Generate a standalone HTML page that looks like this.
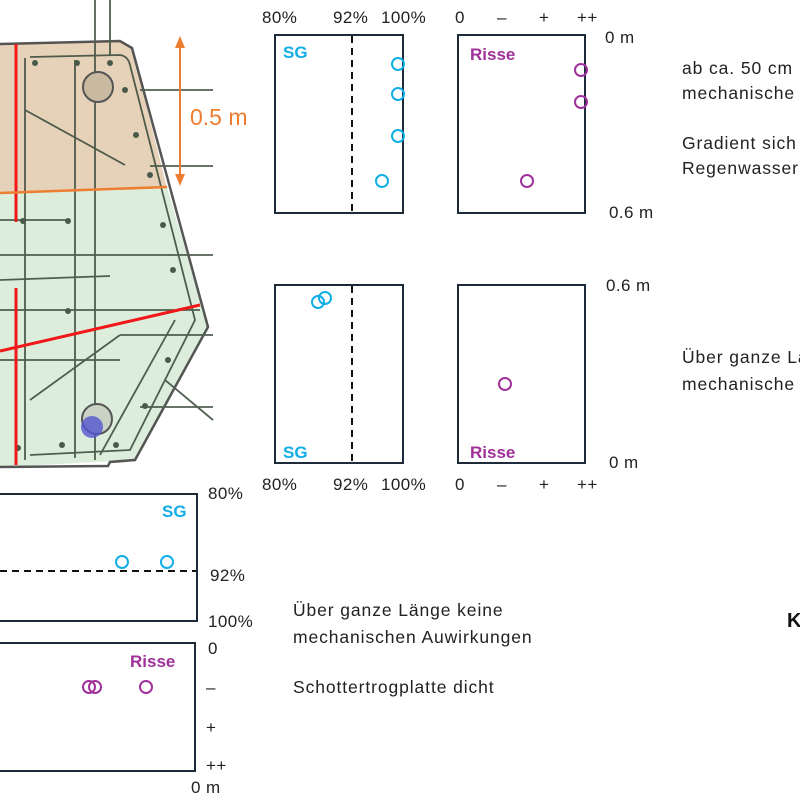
<!DOCTYPE html>
<html><head><meta charset="utf-8"><style>
html,body{margin:0;padding:0;background:#fff;width:800px;height:800px;overflow:hidden}
svg text{font-family:"Liberation Sans",sans-serif}
</style></head><body>
<svg width="800" height="800" viewBox="0 0 800 800" xmlns="http://www.w3.org/2000/svg">
<polygon points="0,44 120,41 132,48 167,188 0,193" fill="#e6d2b8"/>
<polygon points="0,193 167,187 208,327 135,460 0,467" fill="#dceedb"/>
<g stroke="#3f4f3f" stroke-width="1.8" fill="none" opacity="0.9">
<polyline points="0,44 120,41 132,48 208,327 135,460 110,462 108,466 0,467" stroke="#444" stroke-width="2.5"/>
<path d="M25,58 L25,460 M75,60 L75,458 M30,57 L120,55 Q128,56 130,65 L195,320 L130,450 L30,455"/>
<line x1="95" y1="0" x2="95" y2="460"/><line x1="110" y1="0" x2="110" y2="55"/>
<line x1="140" y1="90" x2="213" y2="90"/><line x1="150" y1="166" x2="213" y2="166"/>
<line x1="0" y1="255" x2="213" y2="255"/><line x1="0" y1="220" x2="70" y2="220"/>
<line x1="0" y1="310" x2="200" y2="310"/><line x1="0" y1="360" x2="120" y2="360"/>
<line x1="120" y1="335" x2="213" y2="335"/><line x1="140" y1="407" x2="213" y2="407"/>
<line x1="25" y1="110" x2="125" y2="165" /><line x1="30" y1="400" x2="120" y2="335"/>
<line x1="100" y1="455" x2="175" y2="320"/><line x1="0" y1="280" x2="110" y2="276"/>
<line x1="165" y1="380" x2="213" y2="420"/>
</g>
<circle cx="98" cy="87" r="15" fill="#c9b9a0" stroke="#555" stroke-width="2"/>
<circle cx="97" cy="419" r="15" fill="#c8d3c4" stroke="#555" stroke-width="2"/>
<circle cx="92" cy="427" r="11" fill="#5555d0" opacity="0.8"/>
<g fill="#4a5a4a"><circle cx="35" cy="63" r="3"/><circle cx="77" cy="63" r="3"/><circle cx="110" cy="63" r="3"/><circle cx="125" cy="90" r="3"/><circle cx="136" cy="135" r="3"/><circle cx="150" cy="175" r="3"/><circle cx="23" cy="221" r="3"/><circle cx="68" cy="221" r="3"/><circle cx="163" cy="225" r="3"/><circle cx="173" cy="270" r="3"/><circle cx="68" cy="311" r="3"/><circle cx="168" cy="360" r="3"/><circle cx="145" cy="406" r="3"/><circle cx="62" cy="445" r="3"/><circle cx="116" cy="445" r="3"/><circle cx="18" cy="448" r="3"/></g>
<g stroke="#f01818" stroke-width="3"><line x1="16" y1="44" x2="16" y2="222"/><line x1="16" y1="288" x2="16" y2="465"/><line x1="0" y1="351" x2="200" y2="305"/></g>
<line x1="0" y1="193" x2="167" y2="187" stroke="#ed7d31" stroke-width="2.5"/>
<line x1="180" y1="44" x2="180" y2="180" stroke="#ed7d31" stroke-width="2"/>
<polygon points="180,36 175,48 185,48" fill="#ed7d31"/><polygon points="180,186 175,174 185,174" fill="#ed7d31"/>
<text x="190" y="125" font-size="23" fill="#ed7d31">0.5 m</text>

<g font-size="17" fill="#222" letter-spacing="0.4">
<text x="262" y="23">80%</text><text x="333" y="23">92%</text><text x="381" y="23">100%</text>
<text x="455" y="23">0</text><text x="497" y="23">–</text><text x="539" y="23">+</text><text x="577" y="23">++</text>
<text x="605" y="43">0 m</text><text x="609" y="218">0.6 m</text>
<text x="606" y="291">0.6 m</text><text x="609" y="468">0 m</text>
<text x="262" y="490">80%</text><text x="333" y="490">92%</text><text x="381" y="490">100%</text>
<text x="455" y="490">0</text><text x="497" y="490">–</text><text x="539" y="490">+</text><text x="577" y="490">++</text>
<text x="208" y="499">80%</text><text x="210" y="581">92%</text><text x="208" y="627">100%</text>
<text x="208" y="654">0</text><text x="206" y="693">–</text><text x="206" y="733">+</text><text x="206" y="771">++</text>
<text x="191" y="793">0 m</text>
</g>
<g font-size="17.5" fill="#222" letter-spacing="0.9">
<text x="682" y="74">ab ca. 50 cm</text><text x="682" y="99">mechanische</text>
<text x="682" y="149">Gradient sich</text><text x="682" y="174">Regenwasser</text>
<text x="682" y="363">Über ganze La</text><text x="682" y="390">mechanische</text>
<text x="293" y="616">Über ganze Länge keine</text><text x="293" y="643">mechanischen Auwirkungen</text>
<text x="293" y="693">Schottertrogplatte dicht</text>
</g>
<text x="787" y="627" font-size="20" font-weight="bold" fill="#111">K</text>

<g fill="none" stroke="#1c2a3a" stroke-width="2">
<rect x="275" y="35" width="128" height="178"/><rect x="458" y="35" width="127" height="178"/>
<rect x="275" y="285" width="128" height="178"/><rect x="458" y="285" width="127" height="178"/>
<rect x="-5" y="494" width="202" height="127"/><rect x="-5" y="643" width="200" height="128"/>
</g>
<g stroke="#111" stroke-width="2" stroke-dasharray="7,5">
<line x1="352" y1="36" x2="352" y2="212"/><line x1="352" y1="286" x2="352" y2="462"/>
<line x1="0" y1="571" x2="196" y2="571"/>
</g>
<g font-size="17" font-weight="bold">
<text x="283" y="58" fill="#12aee8">SG</text><text x="283" y="458" fill="#12aee8">SG</text><text x="162" y="517" fill="#12aee8">SG</text>
<text x="470" y="60" fill="#a0309a">Risse</text><text x="470" y="458" fill="#a0309a">Risse</text><text x="130" y="667" fill="#a0309a">Risse</text>
</g>
<g fill="none" stroke="#12aee8" stroke-width="2">
<circle cx="398" cy="64" r="6"/><circle cx="398" cy="94" r="6"/><circle cx="398" cy="136" r="6"/><circle cx="382" cy="181" r="6"/>
<circle cx="318" cy="302" r="6"/><circle cx="325" cy="298" r="6"/>
<circle cx="122" cy="562" r="6"/><circle cx="167" cy="562" r="6"/>
</g>
<g fill="none" stroke="#a0309a" stroke-width="2">
<circle cx="581" cy="70" r="6"/><circle cx="581" cy="102" r="6"/><circle cx="527" cy="181" r="6"/>
<circle cx="505" cy="384" r="6"/>
<circle cx="89" cy="687" r="6"/><circle cx="95" cy="687" r="6"/><circle cx="146" cy="687" r="6"/>
</g>
</svg>
</body></html>
